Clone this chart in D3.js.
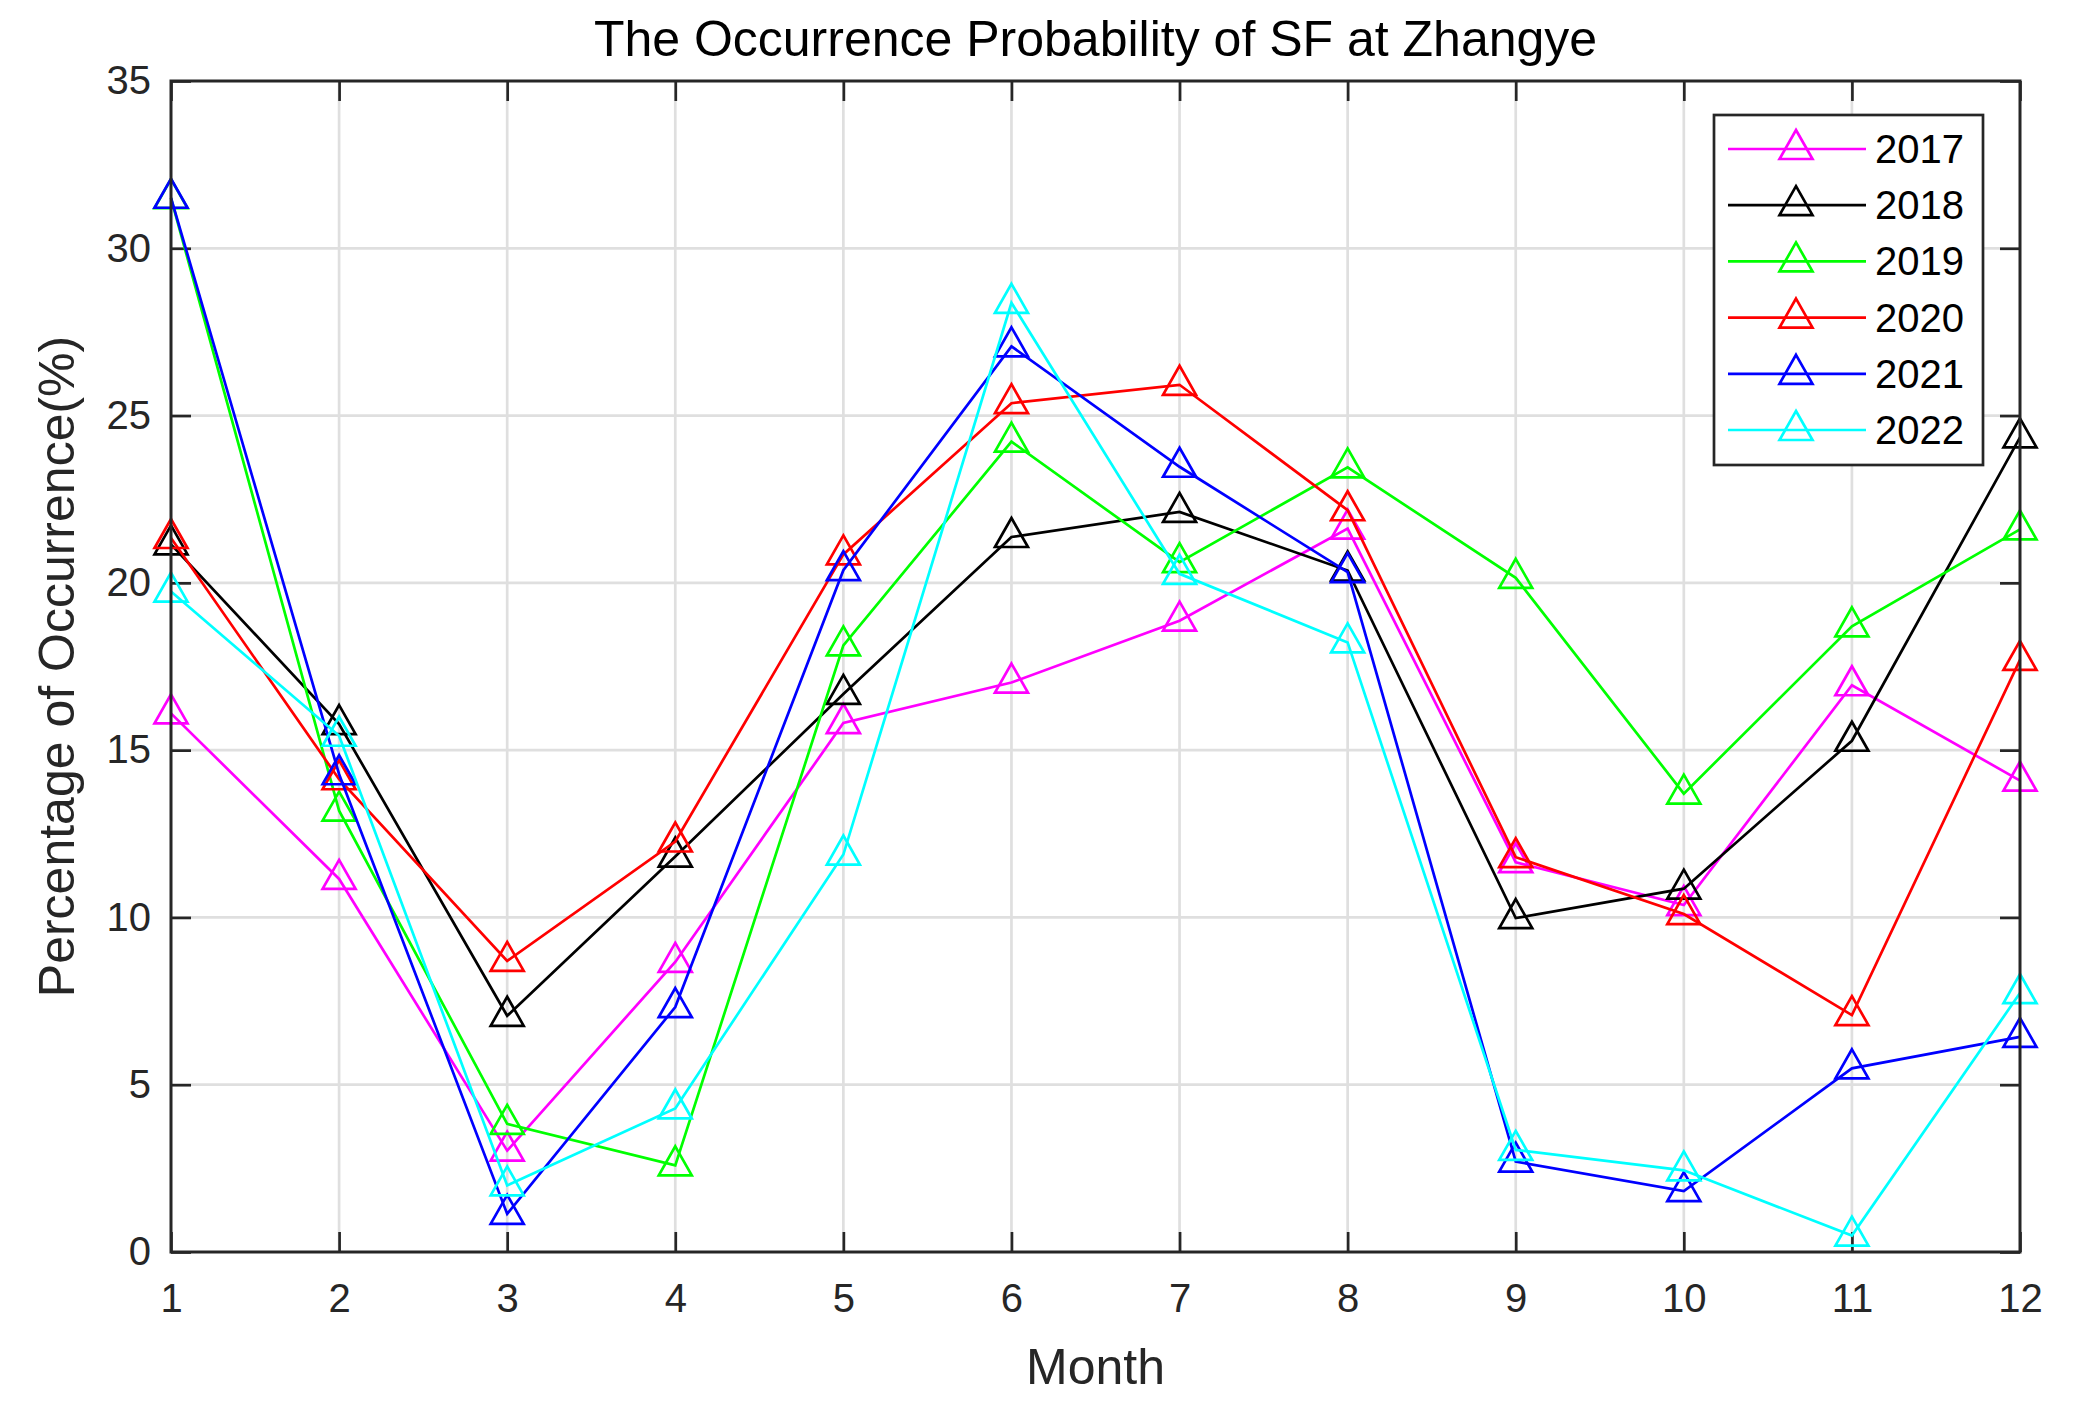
<!DOCTYPE html>
<html>
<head>
<meta charset="utf-8">
<script src="https://cdn.jsdelivr.net/npm/d3@7"></script>
<style>
  body { margin: 0; background: #fff; }
  text { font-family: "Liberation Sans", Arial, sans-serif; }
</style>
</head>
<body>
<script>
// data
var months = [1, 2, 3, 4, 5, 6, 7, 8, 9, 10, 11, 12];
var years = ["2017", "2018", "2019", "2020", "2021", "2022"];
var v2017 = [16.1, 11.15, 3.03, 8.67, 15.81, 17.02, 18.87, 21.62, 11.65, 10.37, 16.94, 14.09];
var v2018 = [21.15, 15.78, 7.06, 11.82, 16.68, 21.37, 22.12, 20.37, 9.98, 10.86, 15.28, 24.35];
var v2019 = [31.5, 13.19, 3.83, 2.59, 18.13, 24.22, 20.62, 23.45, 20.15, 13.7, 18.7, 21.6];
var v2020 = [21.34, 14.13, 8.7, 12.27, 20.85, 25.37, 25.92, 22.17, 11.8, 10.1, 7.08, 17.7];
var v2021 = [31.51, 14.28, 1.14, 7.32, 20.38, 27.07, 23.47, 20.32, 2.7, 1.82, 5.49, 6.43];
var v2022 = [19.74, 15.43, 1.99, 4.29, 11.88, 28.37, 20.27, 18.22, 3.05, 2.44, 0.49, 7.74];
var yTicks = [0, 5, 10, 15, 20, 25, 30, 35];
var colors = ["#ff00ff", "#000000", "#00ff00", "#ff0000", "#0000ff", "#00ffff"];

var series = [v2017, v2018, v2019, v2020, v2021, v2022];

var W = 2087, H = 1413;
var margin = {top: 81, right: 67, bottom: 161, left: 171};
var width = W - margin.left - margin.right,
    height = H - margin.top - margin.bottom;
var axisColor = "#262626";

var svg = d3.select("body").append("svg")
    .attr("width", W).attr("height", H);

var g = svg.append("g")
    .attr("transform", "translate(" + margin.left + "," + margin.top + ")");

var x = d3.scaleLinear().domain([1, 12]).range([0, width]);
var y = d3.scaleLinear().domain([0, 35]).range([height, 0]);

// grid
g.append("g").selectAll("line").data(months.slice(1, -1)).enter().append("line")
    .attr("x1", d => x(d)).attr("x2", d => x(d))
    .attr("y1", 0).attr("y2", height)
    .attr("stroke", "#dfdfdf").attr("stroke-width", 2.7);
g.append("g").selectAll("line").data(yTicks.slice(1, -1)).enter().append("line")
    .attr("y1", d => y(d)).attr("y2", d => y(d))
    .attr("x1", 0).attr("x2", width)
    .attr("stroke", "#dfdfdf").attr("stroke-width", 2.7);

// axes (inward ticks, box on)
function styleAxis(sel) {
    sel.select(".domain").remove();
    sel.selectAll(".tick line").attr("stroke", axisColor).attr("stroke-width", 2.7);
    sel.selectAll(".tick text").attr("fill", axisColor).attr("font-size", 40);
}
g.append("g").attr("transform", "translate(0," + height + ")")
    .call(d3.axisBottom(x).tickValues(months).tickFormat(d3.format("d"))
        .tickSizeInner(-20).tickSizeOuter(0).tickPadding(32))
    .call(styleAxis);
g.append("g")
    .call(d3.axisTop(x).tickValues(months).tickFormat("")
        .tickSizeInner(-20).tickSizeOuter(0))
    .call(styleAxis);
g.append("g")
    .call(d3.axisLeft(y).tickValues(yTicks).tickFormat(d3.format("d"))
        .tickSizeInner(-20).tickSizeOuter(0).tickPadding(20))
    .call(styleAxis);
g.append("g").attr("transform", "translate(" + width + ",0)")
    .call(d3.axisRight(y).tickValues(yTicks).tickFormat("")
        .tickSizeInner(-20).tickSizeOuter(0))
    .call(styleAxis);

var line = d3.line().x((d, i) => x(months[i])).y(d => y(d));
var tri = "M0,-19L16.5,10L-16.5,10Z";

series.forEach(function (vals, k) {
    var sg = g.append("g");
    sg.append("path").datum(vals)
        .attr("d", line)
        .attr("fill", "none")
        .attr("stroke", colors[k])
        .attr("stroke-width", 2.7);
    sg.selectAll("path.mk").data(vals).enter().append("path")
        .attr("class", "mk")
        .attr("d", tri)
        .attr("transform", (d, i) => "translate(" + x(months[i]) + "," + y(d) + ")")
        .attr("fill", "none")
        .attr("stroke", colors[k])
        .attr("stroke-width", 2.7);
});

// box
g.append("rect").attr("width", width).attr("height", height)
    .attr("fill", "none").attr("stroke", axisColor).attr("stroke-width", 3);

// title and labels
svg.append("text")
    .attr("x", margin.left + width / 2).attr("y", 56)
    .attr("text-anchor", "middle").attr("font-size", 50).attr("fill", "#000")
    .text("The Occurrence Probability of SF at Zhangye");
svg.append("text")
    .attr("x", margin.left + width / 2).attr("y", 1384)
    .attr("text-anchor", "middle").attr("font-size", 50).attr("fill", axisColor)
    .text("Month");
svg.append("text")
    .attr("transform", "translate(74," + (margin.top + height / 2) + ") rotate(-90)")
    .attr("text-anchor", "middle").attr("font-size", 50).attr("fill", axisColor)
    .text("Percentage of Occurrence(%)");

// legend
var lg = svg.append("g").attr("transform", "translate(1714,115)");
lg.append("rect").attr("width", 269).attr("height", 350)
    .attr("fill", "#fff").attr("stroke", axisColor).attr("stroke-width", 2.7);
var items = lg.selectAll("g.item").data(years).enter().append("g")
    .attr("transform", (d, i) => "translate(0," + (34 + i * 56.2) + ")");
items.append("line")
    .attr("x1", 14).attr("x2", 152).attr("y1", 0).attr("y2", 0)
    .attr("stroke", (d, i) => colors[i]).attr("stroke-width", 2.7);
items.append("path").attr("d", tri)
    .attr("transform", "translate(82,0)")
    .attr("fill", "none")
    .attr("stroke", (d, i) => colors[i]).attr("stroke-width", 2.7);
items.append("text")
    .attr("x", 161).attr("y", 14)
    .attr("font-size", 40).attr("fill", "#000")
    .text(d => d);
</script>
</body>
</html>
